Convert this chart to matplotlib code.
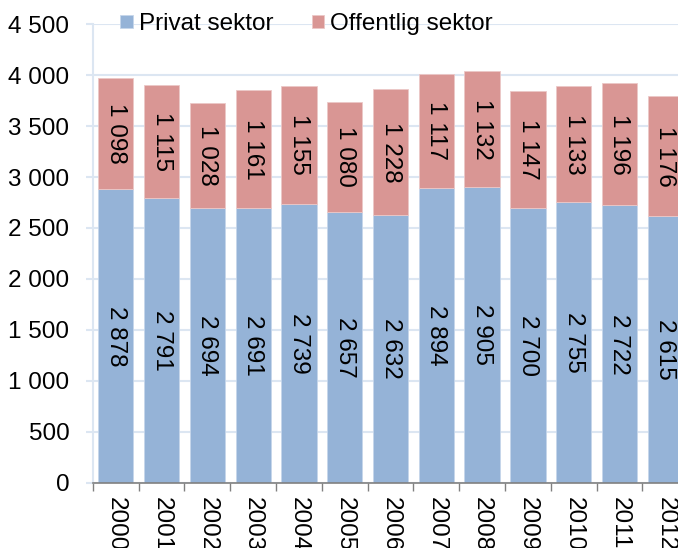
import matplotlib.pyplot as plt
import numpy as np

plt.rcParams['font.family'] = ['Liberation Sans', 'DejaVu Sans']

years = ['2000', '2001', '2002', '2003', '2004', '2005', '2006',
         '2007', '2008', '2009', '2010', '2011', '2012']
privat = [2878, 2791, 2694, 2691, 2739, 2657, 2632, 2894, 2905, 2700, 2755, 2722, 2615]
offentlig = [1098, 1115, 1028, 1161, 1155, 1080, 1228, 1117, 1132, 1147, 1133, 1196, 1176]


def fmt(v):
    return f'{v:,.0f}'.replace(',', ' ')


fs = 17.5
fig = plt.figure(figsize=(6.78, 5.48), dpi=100)
ax = fig.add_axes([0.137, 0.119, 0.878, 0.837])

x = np.arange(len(years))
blue = '#95b3d7'
red = '#d99694'
w = 0.77
ax.bar(x, privat, width=w, color=blue, edgecolor='#c6d6ea', linewidth=0.6,
       label='Privat sektor', zorder=3)
ax.bar(x, offentlig, width=w, bottom=privat, color=red, edgecolor='#ecc8c7',
       linewidth=0.6, label='Offentlig sektor', zorder=3)

for i in range(len(years)):
    ax.text(x[i], privat[i] / 2, fmt(privat[i]), rotation=-90, ha='center',
            va='center', fontsize=fs, zorder=4)
    ax.text(x[i], privat[i] + offentlig[i] / 2, fmt(offentlig[i]), rotation=-90,
            ha='center', va='center', fontsize=fs, zorder=4)

ax.set_xlim(-0.5, len(years) - 0.5)
ax.set_ylim(0, 4500)
ax.set_yticks(np.arange(0, 4501, 500))
ax.set_yticklabels([fmt(v) for v in np.arange(0, 4501, 500)], fontsize=fs)
ax.yaxis.grid(True, color='#dce6f2', linewidth=1.5, zorder=0)

ax.set_xticks(x)
ax.set_xticklabels(years, rotation=-90, fontsize=fs)
ax.set_xticks(np.arange(-0.5, len(years), 1), minor=True)
ax.tick_params(axis='x', which='major', length=0, pad=10)
ax.tick_params(axis='x', which='minor', length=6, color='#808080', width=1)
ax.tick_params(axis='y', length=5, color='#dce6f2', width=1.5, pad=12)

for s in ['top', 'right']:
    ax.spines[s].set_visible(False)
ax.spines['left'].set_color('#dce6f2')
ax.spines['left'].set_linewidth(1.5)
ax.spines['bottom'].set_color('#808080')
ax.spines['bottom'].set_linewidth(1.2)
ax.spines['bottom'].set_zorder(5)

ax.legend(loc='upper left', bbox_to_anchor=(0.03, 1.045), ncol=2, frameon=False,
          fontsize=fs, handlelength=0.5, handleheight=0.5, handletextpad=0.25,
          columnspacing=1.6, borderaxespad=0)

fig.savefig('out.png', dpi=100)
